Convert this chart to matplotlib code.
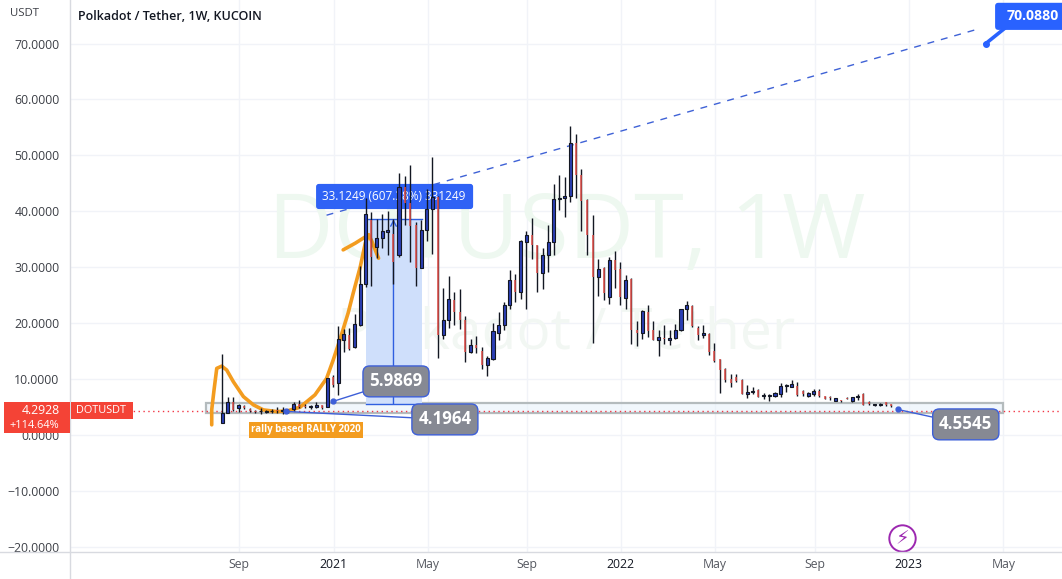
import matplotlib
matplotlib.use('Agg')
import numpy as np
import matplotlib.pyplot as plt
from matplotlib.lines import Line2D
from matplotlib.patches import Rectangle, FancyBboxPatch

# weekly candles, x is just the week number
opens = [2.1, 4.0, 5.8, 4.8, 5.2, 4.6, 4.3, 4.2, 4.1, 4.2,
         4.4, 4.2, 4.4, 4.6, 5.5, 5.1, 5.0, 4.95, 5.3, 5.07,
         10.3, 9.25, 17.0, 17.8, 15.8, 19.7, 27.0, 38.4, 33.7, 35.2,
         36.3, 36.0, 32.2, 44.4, 41.5, 37.5, 29.9, 36.6, 40.4, 42.5,
         17.9, 20.6, 24.1, 22.0, 20.6, 14.9, 16.0, 15.0, 12.5, 13.6,
         18.3, 19.6, 23.2, 27.7, 25.6, 34.5, 35.8, 33.9, 29.0, 32.2,
         34.5, 42.2, 42.3, 42.7, 52.2, 46.5, 42.0, 35.8, 28.3, 29.8,
         24.7, 31.3, 29.7, 24.5, 27.8, 18.8, 18.2, 21.9, 18.8, 16.9,
         17.4, 16.9, 17.4, 18.7, 22.5, 23.1, 19.2, 17.8, 18.0, 15.0,
         13.5, 11.7, 10.0, 10.3, 9.9, 7.35, 7.6, 8.1, 7.0, 7.0,
         6.9, 7.35, 8.7, 8.65, 8.8, 7.9, 6.9, 7.35, 7.9, 6.9,
         6.8, 6.15, 6.2, 6.6, 6.0, 6.8, 7.4, 5.9, 5.3, 5.3,
         5.8, 5.5]
highs = [14.4, 6.8, 6.8, 5.5, 5.4, 4.8, 4.5, 4.9, 4.5, 4.7,
         5.0, 5.0, 4.7, 5.9, 6.3, 5.5, 5.3, 5.8, 5.4, 10.25,
         10.7, 19.5, 18.9, 19.1, 21.7, 30.2, 42.3, 39.9, 38.6, 39.5,
         40.1, 38.6, 46.8, 46.3, 48.3, 38.0, 38.5, 43.9, 49.7, 42.8,
         26.2, 28.5, 25.5, 26.1, 21.2, 17.2, 17.7, 15.8, 14.1, 20.1,
         21.9, 23.7, 29.5, 28.8, 34.9, 36.5, 38.8, 34.0, 33.4, 37.6,
         44.9, 46.5, 46.2, 55.2, 53.8, 47.5, 42.2, 39.4, 31.4, 30.1,
         31.8, 32.9, 30.9, 28.6, 28.0, 20.3, 22.4, 23.3, 20.4, 18.8,
         19.7, 18.8, 19.9, 22.6, 24.0, 23.3, 19.4, 19.7, 18.3, 16.4,
         13.6, 11.9, 10.9, 10.9, 10.0, 8.95, 8.5, 8.2, 7.5, 7.3,
         7.7, 9.2, 9.1, 9.8, 9.4, 8.0, 7.6, 8.2, 8.2, 6.9,
         7.0, 6.6, 6.3, 6.7, 6.8, 7.35, 7.5, 6.0, 5.6, 5.7,
         5.8, 5.6]
lows = [2.1, 4.0, 4.2, 4.17, 4.6, 4.1, 3.9, 3.8, 3.9, 3.9,
        3.9, 3.8, 4.0, 4.3, 4.8, 4.9, 4.7, 4.9, 4.7, 5.0,
        8.5, 7.1, 14.9, 15.2, 15.6, 19.4, 26.5, 26.6, 31.6, 33.4,
        32.1, 27.0, 31.9, 37.5, 31.0, 26.7, 29.8, 34.6, 32.4, 13.7,
        17.2, 19.2, 19.7, 19.0, 13.1, 14.6, 14.6, 11.8, 10.5, 13.4,
        16.9, 18.8, 22.5, 23.7, 24.3, 22.5, 31.5, 25.6, 26.1, 29.2,
        32.2, 40.2, 38.9, 41.7, 42.3, 36.5, 32.2, 16.5, 24.9, 24.1,
        23.4, 26.2, 23.2, 22.6, 16.3, 15.9, 17.2, 17.6, 16.9, 14.2,
        16.3, 16.1, 17.2, 18.5, 20.6, 19.3, 17.0, 17.3, 14.3, 13.1,
        7.45, 9.4, 8.6, 9.4, 7.3, 6.55, 7.3, 6.75, 6.4, 6.1,
        6.8, 6.7, 7.75, 8.5, 7.0, 7.0, 6.8, 6.9, 6.75, 6.4,
        6.25, 6.1, 5.8, 6.4, 5.95, 6.25, 5.3, 5.4, 5.1, 5.25,
        5.2, 5.05]
closes = [4.0, 5.8, 4.5, 5.37, 4.8, 4.3, 4.1, 4.3, 4.3, 4.35,
          4.2, 4.4, 4.3, 5.5, 5.0, 5.0, 5.1, 5.4, 4.9, 10.25,
          9.0, 17.1, 18.0, 15.4, 19.8, 27.0, 39.5, 31.9, 35.2, 36.5,
          36.6, 31.0, 44.4, 41.5, 37.4, 29.9, 36.7, 40.4, 42.5, 17.9,
          20.6, 24.3, 22.0, 20.6, 14.9, 16.1, 15.5, 12.5, 13.7, 18.5,
          19.7, 23.3, 27.7, 25.6, 34.6, 35.8, 34.0, 29.0, 32.2, 34.5,
          42.2, 42.4, 42.7, 52.2, 46.5, 41.9, 35.8, 28.3, 29.7, 25.3,
          31.3, 29.5, 24.7, 27.7, 18.8, 18.2, 22.1, 18.5, 17.0, 17.5,
          17.2, 17.4, 18.7, 22.5, 23.3, 19.4, 17.9, 18.3, 14.8, 13.3,
          11.6, 9.8, 9.2, 9.6, 7.4, 7.75, 7.9, 6.8, 7.1, 7.1,
          7.45, 8.8, 8.8, 9.1, 7.2, 7.3, 7.45, 7.85, 7.0, 6.5,
          6.6, 6.55, 6.0, 6.5, 6.75, 6.95, 5.4, 5.5, 5.4, 5.6,
          5.4, 5.1]

# hand drawn orange strokes (week, price)
brush1_x = [-1.87, -1.87, -1.45, -0.96, -0.06, 0.84, 2.05, 3.86, 5.67, 7.47, 9.9, 11.8, 14.1,
            16.8, 18.9, 20.1, 21.3, 22.8, 23.7, 25.0, 25.9, 26.5, 27.1, 28.3]
brush1_y = [1.8, 4.5, 8.05, 11.9, 12.3, 11.6, 9.5, 6.85, 5.37, 4.47, 4.17, 4.29, 4.95,
            7.16, 10.1, 13.4, 17.0, 21.8, 25.3, 30.1, 34.3, 35.8, 34.6, 31.6]
brush2_x = [21.9, 24.1, 26.5]
brush2_y = [33.1, 34.3, 35.8]

y_ticks = [70, 60, 50, 40, 30, 20, 10, 0, -10, -20]
y_labels = ['70.0000', '60.0000', '50.0000', '40.0000', '30.0000', '20.0000', '10.0000',
            '0.0000', '\u221210.0000', '\u221220.0000']
x_ticks = [3.07, 20.2, 37.2, 55.2, 72.1, 89.1, 107.2, 124.2, 141.3]
x_labels = ['Sep', '2021', 'May', 'Sep', '2022', 'May', 'Sep', '2023', 'May']

plt.rcParams['font.family'] = ['Open Sans', 'DejaVu Sans']

fig = plt.figure(figsize=(10.62, 5.79), dpi=100)
ax = fig.add_axes([70 / 1062, 27 / 579, 992 / 1062, 552 / 579])
ax.set_xlim(-27.5, 151.9)
ax.set_ylim(-20.95, 77.8)

ax.set_yticks(y_ticks)
ax.set_yticklabels(y_labels, fontsize=8.8, color='#3c3f46')
ax.set_xticks(x_ticks)
ax.set_xticklabels(x_labels, fontsize=8.8)
for lab, txt in zip(ax.get_xticklabels(), x_labels):
    lab.set_color('#131722' if txt.isdigit() else '#555860')
ax.tick_params(axis='y', length=0, pad=7.5)
ax.tick_params(axis='x', length=0, pad=4.5)
ax.grid(True, color='#f1f3f8', lw=1)
ax.set_axisbelow(True)
for s in ['top', 'right', 'left', 'bottom']:
    ax.spines[s].set_visible(False)

# axis lines go all the way across the price/time scales
fig.add_artist(Line2D([0, 1], [27.5 / 579, 27.5 / 579], color='#d8dae0', lw=1))
fig.add_artist(Line2D([69.5 / 1062, 69.5 / 1062], [0, 1], color='#d8dae0', lw=1))

# watermark
ax.text(62.4, 35.8, 'DOTUSDT, 1W', fontsize=65, color='#eef8f0', ha='center', va='center', zorder=1)
ax.text(62.2, 17.9, 'Polkadot / Tether', fontsize=41, color='#f2f7f3', ha='center', va='center', zorder=1)

# support box
ax.add_patch(Rectangle((-2.9, 3.9), 144.2, 1.82, facecolor=(0.91, 0.95, 0.98, 0.6), edgecolor='#b4bbbd', lw=1.6, zorder=2))
ax.axhline(4.2928, color='#f23645', lw=1, ls=(0, (1, 2.5)), zorder=2.5)

# measure tool
ax.add_patch(Rectangle((26.04, 5.5), 10.04, 33.1, facecolor='#cfdffb', edgecolor='none', zorder=2.2))
ax.plot([26.04, 36.08], [38.6, 38.6], color='#2f5fe0', lw=1, zorder=2.3)
ax.plot([26.04, 36.08], [5.5, 5.5], color='#2f5fe0', lw=1, zorder=2.3)
ax.annotate('', xy=(31, 38.6), xytext=(31, 5.5), zorder=2.3,
            arrowprops=dict(arrowstyle='->', color='#2f5fe0', lw=1, shrinkA=0, shrinkB=0))

# trend line
ax.plot([18.9, 136.7], [39.3, 72.6], color='#3f62d6', lw=1, ls=(0, (5, 5)), zorder=2.4)

ax.add_patch(FancyBboxPatch((17.0, 40.4), 28.4, 4.5, boxstyle='round,pad=0,rounding_size=0.5',
                            mutation_aspect=1, facecolor='#2f62f5', edgecolor='none', zorder=2.6))
ax.text(31.1, 42.6, '33.1249 (607.38%) 331249', color='white', fontsize=8.5, ha='center', va='center', zorder=2.7)

# orange brush goes under the candles
ax.plot(brush1_x, brush1_y, color='#f39c1f', lw=2.6, solid_capstyle='round', solid_joinstyle='round', zorder=3)
ax.plot(brush2_x, brush2_y, color='#f39c1f', lw=2.6, solid_capstyle='round', zorder=3)

# candles
weeks = np.arange(len(opens))
o = np.array(opens)
c = np.array(closes)
up = c >= o
ax.vlines(weeks, lows, highs, color='#131722', lw=1, zorder=4)
ax.vlines(weeks[~up], o[~up], c[~up], color='#e4504a', lw=1.1, zorder=5)
ax.bar(weeks[up], np.maximum(c[up] - o[up], 0.15), bottom=o[up], width=0.55,
       facecolor='#2b3fb5', edgecolor='#131722', lw=0.8, zorder=5)

# callouts
def callout(text, box_x, box_y, anchor_x, anchor_y, bg='#868993'):
    ax.annotate(text, xy=(anchor_x, anchor_y), xytext=(box_x, box_y), ha='center', va='center',
                color='white', fontsize=12.2, fontweight='bold', zorder=7,
                bbox=dict(boxstyle='round,pad=0.38,rounding_size=0.4', facecolor=bg, edgecolor='#3d5fd8', lw=1),
                arrowprops=dict(arrowstyle='-', color='#3d5fd8', lw=1, shrinkA=0, shrinkB=0))
    ax.plot([anchor_x], [anchor_y], 'o', ms=3.5, color='#3d5fd8', zorder=6)

callout('5.9869', 31.46, 9.57, 20.1, 6.0)
callout('4.1964', 40.3, 2.77, 11.5, 4.2)
callout('4.5545', 134.5, 1.88, 122.2, 4.55)

ax.annotate('rally based RALLY 2020', xy=(15.2, 0.9), ha='center', va='center', color='white',
            fontsize=7, fontweight='bold', zorder=7,
            bbox=dict(boxstyle='square,pad=0.25', facecolor='#f39c1f', edgecolor='none'))

# top right price label, runs off the edge
ax.plot([138.1, 141.5], [70.0, 72.7], color='#2962ff', lw=2.6, zorder=7)
ax.plot([138.1], [70.0], 'o', ms=4, color='#2962ff', zorder=7)
ax.add_patch(FancyBboxPatch((139.8, 72.45), 14, 4.85, boxstyle='round,pad=0,rounding_size=0.6',
                            mutation_aspect=1, facecolor='#2962ff', edgecolor='none', zorder=7))
ax.text(146.7, 74.9, '70.0880', color='white', fontsize=10.2, fontweight='bold', ha='center', va='center',
        zorder=8, clip_on=True)

# lightning icon
ax.plot([123.0], [-18.5], 'o', ms=19, mfc='white', mec='#9c27b0', mew=1.4, zorder=7)
ax.text(123.0, -18.6, '\u26a1', family='DejaVu Sans', color='#9c27b0', fontsize=14, ha='center', va='center', zorder=8)

# left side labels
fig.text(10 / 1062, 1 - 14 / 579, 'USDT', fontsize=8.2, color='#3c3f46', va='center')
fig.text(78 / 1062, 1 - 16.5 / 579, 'Polkadot / Tether, 1W, KUCOIN', fontsize=9, fontweight='semibold', color='#131722', va='center')

fig.patches.append(Rectangle((4 / 1062, 1 - 433 / 579), 66 / 1062, 31 / 579, transform=fig.transFigure,
                             facecolor='#f44336', edgecolor='none', zorder=5))
fig.patches.append(Rectangle((71 / 1062, 1 - 419 / 579), 62 / 1062, 17 / 579, transform=fig.transFigure,
                             facecolor='#f44336', edgecolor='none', zorder=5))
fig.text(59.5 / 1062, 1 - 411 / 579, '4.2928', color='white', fontsize=8.8, ha='right', va='center', zorder=6)
fig.text(59.5 / 1062, 1 - 425 / 579, '+114.64%', color='white', fontsize=7.9, ha='right', va='center', zorder=6)
fig.text(76 / 1062, 1 - 410.5 / 579, 'DOTUSDT', color='white', fontsize=7.8, ha='left', va='center', zorder=6)

fig.savefig('out.png', dpi=100)
